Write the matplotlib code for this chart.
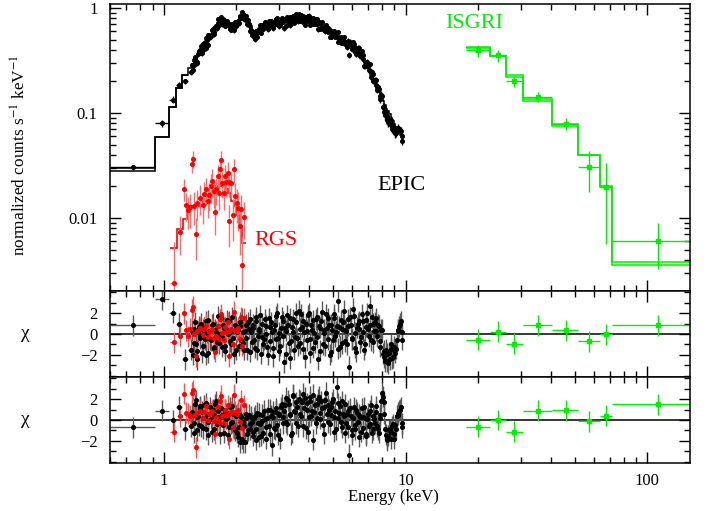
import numpy as np
import matplotlib
matplotlib.use('Agg')
import matplotlib.pyplot as plt
from matplotlib.ticker import MultipleLocator, LogLocator, NullFormatter

plt.rcParams['font.family'] = ['Liberation Serif', 'STIXGeneral', 'DejaVu Serif']
plt.rcParams['mathtext.fontset'] = 'stix'

# ---------------- EPIC: coarse low-energy bins ----------------
epic_lo_edges = [0.60, 0.924, 1.05, 1.128, 1.19, 1.26]
epic_lo_e = [0.75, 0.985, 1.09, 1.16, 1.225]
epic_lo_rate = [0.0303, 0.080, 0.134, 0.186, 0.200]
epic_lo_err = [0.0015, 0.0064, 0.010, 0.012, 0.012]
epic_lo_model1 = [0.0280, 0.059, 0.114, 0.174, 0.229]
epic_lo_model2 = [0.0300, 0.059, 0.114, 0.174, 0.229]
epic_lo_chi1 = [0.85, 3.3, 2.05, 1.0, -2.4]
epic_lo_chi2 = [-0.7, 0.9, 0.0, 1.25, -0.9]

# ---------------- EPIC set A: fine bins (keV) ----------------
epic_e = [
    1.30, 1.32, 1.34, 1.36, 1.38, 1.40, 1.42, 1.44, 1.46, 1.48,
    1.50, 1.52, 1.54, 1.57, 1.60, 1.62, 1.65, 1.67, 1.70, 1.72,
    1.75, 1.77, 1.80, 1.83, 1.86, 1.88, 1.91, 1.94, 1.97, 2.00,
    2.03, 2.06, 2.09, 2.12, 2.15, 2.18, 2.21, 2.25, 2.28, 2.31,
    2.35, 2.38, 2.42, 2.45, 2.49, 2.52, 2.56, 2.60, 2.64, 2.68,
    2.72, 2.76, 2.80, 2.84, 2.88, 2.92, 2.97, 3.01, 3.06, 3.10,
    3.15, 3.19, 3.24, 3.29, 3.34, 3.39, 3.44, 3.49, 3.54, 3.59,
    3.65, 3.70, 3.76, 3.81, 3.87, 3.93, 3.98, 4.04, 4.10, 4.16,
    4.23, 4.29, 4.35, 4.42, 4.48, 4.55, 4.62, 4.69, 4.76, 4.83,
    4.90, 4.97, 5.05, 5.12, 5.20, 5.28, 5.36, 5.44, 5.52, 5.60,
    5.68, 5.77, 5.85, 5.94, 6.03, 6.12, 6.21, 6.30, 6.40, 6.49,
    6.59, 6.69, 6.79, 6.89, 6.99, 7.10, 7.20, 7.31, 7.42, 7.53,
    7.64, 7.76, 7.87, 7.99, 8.11, 8.23, 8.36, 8.48, 8.61, 8.74,
    8.87, 9.00, 9.13, 9.27, 9.41, 9.55, 9.70,
]
epic_model = [
    0.27, 0.29, 0.31, 0.33, 0.35, 0.37, 0.40, 0.42, 0.44, 0.46,
    0.48, 0.50, 0.52, 0.56, 0.60, 0.63, 0.66, 0.69, 0.72, 0.75,
    0.76, 0.75, 0.72, 0.70, 0.68, 0.66, 0.65, 0.66, 0.70, 0.72,
    0.74, 0.78, 0.83, 0.86, 0.84, 0.80, 0.76, 0.68, 0.63, 0.58,
    0.55, 0.54, 0.56, 0.59, 0.62, 0.64, 0.66, 0.68, 0.69, 0.70,
    0.70, 0.71, 0.71, 0.72, 0.72, 0.72, 0.73, 0.73, 0.73, 0.74,
    0.74, 0.75, 0.75, 0.76, 0.77, 0.77, 0.78, 0.78, 0.79, 0.79,
    0.79, 0.79, 0.79, 0.78, 0.78, 0.77, 0.77, 0.76, 0.76, 0.75,
    0.74, 0.73, 0.71, 0.70, 0.68, 0.66, 0.64, 0.63, 0.61, 0.60,
    0.58, 0.57, 0.55, 0.54, 0.52, 0.51, 0.50, 0.49, 0.48, 0.47,
    0.46, 0.45, 0.44, 0.43, 0.42, 0.41, 0.41, 0.40, 0.39, 0.37,
    0.35, 0.32, 0.30, 0.28, 0.27, 0.25, 0.23, 0.22, 0.20, 0.19,
    0.17, 0.16, 0.15, 0.14, 0.13, 0.12, 0.11, 0.105, 0.098, 0.090,
    0.084, 0.078, 0.073, 0.070, 0.066, 0.062, 0.056,
]
epic_chi1 = [
    -1.5, -2.0, 0.5, -1.0, -2.4, 0.7, -0.2, -1.8, 0.4, -0.5,
    1.2, -1.8, 0.3, -0.6, 1.0, -1.2, 0.2, 0.8, -0.9, 1.5,
    -0.3, 0.6, -1.1, 1.3, 0.1, -0.7, 1.6, -0.4, 0.9, -1.5,
    0.4, 1.1, -0.6, 0.2, -1.5, 0.9, -1.5, 0.5, 1.4, -0.8,
    0.6, -1.3, 1.6, -0.2, 0.3, -1.9, 1.0, -0.5, 0.8, -1.2,
    1.5, -0.7, 0.2, -2.1, 0.9, 1.7, -0.4, -1.6, 0.6, 1.2,
    -2.7, 0.3, 1.8, -0.9, -2.3, 0.7, 1.4, -0.3, 2.0, -1.1,
    0.5, 1.9, -1.4, 0.2, 1.0, -0.6, 2.0, -1.8, 0.4, 1.3,
    -0.8, 1.6, -2.4, 0.6, 1.2, -1.0, 0.1, 1.9, -0.5, 0.9,
    -1.7, 0.4, 1.5, -0.2, 0.8, 3.1, -1.2, 0.5, 1.1, -0.7,
    0.3, 1.4, -3.1, 0.9, -0.4, 1.7, -1.3, 0.6, 1.2, -0.8,
    1.9, 0.2, -1.0, 1.3, 0.5, 2.7, -0.6, 1.0, 0.3, 1.5,
    -0.2, 0.8, -1.2, 0.4, -1.6, -2.6, -1.9, -2.8, -2.4, -1.4,
    -2.2, -1.5, -1.4, 0.4, 0.75, 1.2, -0.55,
]
epic_chi2 = [
    -0.6, 0.5, -1.2, 1.9, 0.3, -0.5, 1.3, 0.8, -0.8, 0.2,
    1.6, -1.4, 0.6, 0.1, 1.0, -0.9, 1.8, 0.3, -0.3, 1.1,
    0.5, -1.2, 0.9, 0.2, -0.7, 1.2, -0.2, 0.6, -1.0, 0.4,
    -1.6, -2.1, 0.3, -2.1, -0.6, 0.2, -1.3, 0.5, -0.9, -0.2,
    -1.1, 0.4, -1.9, -0.3, 0.6, -1.5, -0.1, 0.9, -1.8, 0.2,
    -0.6, 1.0, -2.4, 0.3, -0.9, 0.8, -1.4, 0.5, 1.2, -0.3,
    0.9, 2.1, -0.4, 1.5, 0.6, -1.2, 2.4, 0.8, 1.7, -0.6,
    1.9, 0.4, 2.5, 1.1, -0.8, 1.6, 0.3, 2.2, 0.9, -1.9,
    1.4, 0.2, 2.0, 0.7, 1.8, -0.5, 1.2, 2.6, -0.2, 1.0,
    0.5, 1.7, -1.1, 0.9, 3.1, 0.2, 1.3, -0.7, 0.6, 1.5,
    -0.3, 0.9, -3.3, 0.4, -1.0, 1.2, -0.5, 0.7, -1.6, 0.3,
    1.1, -0.8, 0.2, -1.3, 0.6, -0.4, 1.4, -0.9, 0.1, 0.8,
    -0.6, -1.2, 0.5, 2.6, 1.75, -0.9, -1.95, -1.5, -0.9, -1.1,
    -0.4, -1.8, -0.9, 0.5, 0.9, 1.2, -0.7,
]
# fractional error, one value per row of ten bins
epic_relerr_rows = [0.06, 0.06, 0.05, 0.05, 0.05, 0.05, 0.05,
                    0.05, 0.05, 0.05, 0.06, 0.06, 0.08, 0.08]

# ---------------- EPIC set B (second camera) ----------------
epicb_e = [
    1.31, 1.33, 1.35, 1.37, 1.39, 1.41, 1.43, 1.45, 1.47, 1.49,
    1.51, 1.53, 1.555, 1.585, 1.61, 1.635, 1.66, 1.685, 1.71, 1.735,
    1.76, 1.785, 1.815, 1.845, 1.87, 1.895, 1.925, 1.955, 1.985, 2.015,
    2.045, 2.075, 2.105, 2.135, 2.165, 2.195, 2.23, 2.265, 2.295, 2.33,
    2.365, 2.40, 2.435, 2.47, 2.505, 2.54, 2.58, 2.62, 2.66, 2.70,
    2.74, 2.78, 2.82, 2.86, 2.90, 2.945, 2.99, 3.035, 3.08, 3.125,
    3.17, 3.215, 3.265, 3.315, 3.365, 3.415, 3.465, 3.515, 3.565, 3.62,
    3.675, 3.73, 3.785, 3.84, 3.90, 3.955, 4.01, 4.07, 4.13, 4.195,
    4.26, 4.32, 4.385, 4.45, 4.515, 4.585, 4.655, 4.725, 4.795, 4.865,
    4.935, 5.01, 5.085, 5.16, 5.24, 5.32, 5.40, 5.48, 5.56, 5.64,
    5.725, 5.81, 5.895, 5.985, 6.075, 6.165, 6.255, 6.35, 6.445, 6.54,
    6.64, 6.74, 6.84, 6.94, 7.045, 7.15, 7.255, 7.365, 7.475, 7.585,
    7.70, 7.815, 7.93, 8.05, 8.17, 8.295, 8.42, 8.545, 8.675, 8.805,
    8.935, 9.065, 9.20, 9.34, 9.48, 9.625,
]
epicb_model = [
    0.28, 0.30, 0.32, 0.34, 0.36, 0.385, 0.41, 0.43, 0.45, 0.47,
    0.49, 0.51, 0.54, 0.58, 0.615, 0.645, 0.675, 0.705, 0.735, 0.755,
    0.755, 0.735, 0.71, 0.69, 0.67, 0.655, 0.655, 0.68, 0.71, 0.73,
    0.76, 0.805, 0.845, 0.85, 0.82, 0.78, 0.72, 0.655, 0.605, 0.565,
    0.545, 0.55, 0.575, 0.605, 0.63, 0.65, 0.67, 0.685, 0.695, 0.70,
    0.705, 0.71, 0.715, 0.72, 0.72, 0.725, 0.73, 0.73, 0.735, 0.74,
    0.745, 0.75, 0.755, 0.765, 0.77, 0.775, 0.78, 0.785, 0.79, 0.79,
    0.79, 0.79, 0.785, 0.78, 0.775, 0.77, 0.765, 0.76, 0.755, 0.745,
    0.735, 0.72, 0.705, 0.69, 0.67, 0.65, 0.635, 0.62, 0.605, 0.59,
    0.575, 0.56, 0.545, 0.53, 0.515, 0.505, 0.495, 0.485, 0.475, 0.465,
    0.455, 0.445, 0.435, 0.425, 0.415, 0.41, 0.405, 0.395, 0.38, 0.36,
    0.335, 0.31, 0.29, 0.275, 0.26, 0.24, 0.225, 0.21, 0.195, 0.18,
    0.165, 0.155, 0.145, 0.135, 0.125, 0.115, 0.108, 0.10, 0.094, 0.087,
    0.081, 0.075, 0.071, 0.068, 0.064, 0.059,
]
epicb_chi1 = [
    0.3, -0.9, 1.1, -1.6, 0.2, -0.4, 1.0, -1.1, 0.6, -2.0,
    0.1, 1.3, -0.5, 0.9, -1.4, 0.4, -0.8, 1.7, 0.0, -1.2,
    0.9, -1.6, 0.5, 0.0, 1.2, -1.0, 0.3, -1.9, 0.7, 0.2,
    -1.1, 0.8, 1.5, -0.9, 0.3, -0.4, 1.1, -1.7, 0.2, 0.9,
    -0.6, 1.2, -1.5, 0.5, 1.8, -0.3, -1.0, 1.4, 0.0, -2.0,
    0.7, 1.1, -1.3, 0.4, -0.5, 2.0, 0.1, -1.1, 1.6, -0.2,
    0.6, -1.9, 0.9, 1.5, -0.7, 0.2, -1.5, 1.1, -0.4, 2.2,
    -0.9, 0.7, 1.2, -2.2, 0.3, 1.8, -0.5, 0.9, -1.3, 0.1,
    1.4, -0.3, 0.8, -1.6, 2.1, 0.4, -1.1, 0.6, 1.5, -2.0,
    0.9, -0.6, 1.9, 0.2, -1.4, 0.7, 1.3, -0.9, 2.2, 0.4,
    -1.0, 0.8, 1.6, -0.5, 2.4, 0.1, -1.7, 1.0, 0.5, -0.3,
    1.2, -1.5, 0.7, 2.0, -0.2, 0.9, 1.6, -0.8, 1.1, 0.3,
    0.9, -0.7, 0.4, -1.9, -2.2, -1.5, -2.6, -1.8, -1.0, -2.3,
    -1.2, -1.8, -0.6, 0.3, 1.0, 0.2,
]
epicb_chi2 = [
    0.8, -0.3, 1.5, -1.0, 0.4, 1.1, -0.6, 0.2, 1.4, -0.9,
    0.6, -0.2, 1.2, -1.1, 0.5, 1.5, -0.4, 0.9, -1.3, 0.3,
    -0.5, 1.0, 0.1, -1.4, 0.7, -0.3, 1.3, -0.8, 0.4, -1.2,
    -0.7, 0.5, -1.8, -0.2, -2.1, 0.6, -1.0, -0.4, 0.3, -1.5,
    0.2, -0.9, 0.7, -1.6, -0.4, 0.5, -1.2, 0.1, -0.7, 1.0,
    -1.3, 0.4, 0.8, -0.8, 1.1, -0.5, 0.6, -1.8, 1.5, 0.3,
    1.4, -0.2, 1.9, 0.5, -1.4, 2.3, 0.9, -0.3, 1.2, 2.0,
    0.6, 1.7, -0.6, 2.1, 1.0, -1.1, 1.8, 0.4, 2.4, 0.8,
    -0.3, 1.5, 2.2, 0.1, 1.1, -1.3, 1.9, 0.6, 1.4, -0.4,
    1.2, 2.0, 0.3, -0.9, 1.6, 0.7, -0.2, 1.8, 0.4, -1.2,
    0.6, -0.7, 1.1, -1.4, 0.2, -0.9, 1.0, -0.2, 0.5, -1.1,
    0.3, 1.2, -1.5, 0.1, -0.6, 0.9, -1.2, 0.4, -0.3, 1.3,
    -0.9, 0.2, 1.8, 2.2, 0.6, -1.4, -1.7, -1.0, -1.8, -0.6,
    -1.3, -0.5, 0.4, 0.7, 1.0, -0.3,
]

# ---------------- RGS ----------------
rgs_e = [1.100, 1.172, 1.209, 1.237, 1.265, 1.29, 1.31, 1.32, 1.33, 1.356,
         1.38, 1.41, 1.45, 1.47, 1.50, 1.52, 1.545, 1.57, 1.59, 1.61,
         1.63, 1.65, 1.67, 1.69, 1.71, 1.73, 1.75, 1.77, 1.79, 1.81,
         1.84, 1.86, 1.87, 1.90, 1.93, 1.95, 1.98, 2.01, 2.03, 2.06,
         2.09, 2.11, 2.15]
rgs_rate = [0.0024, 0.0074, 0.0189, 0.0133, 0.0118, 0.0126, 0.0327, 0.0365, 0.0130, 0.0070,
            0.0140, 0.0156, 0.0133, 0.0170, 0.0187, 0.0145, 0.0167, 0.0200, 0.0225, 0.0180,
            0.0114, 0.0187, 0.0250, 0.0174, 0.0294, 0.0356, 0.0216, 0.0174, 0.0250, 0.0218,
            0.0271, 0.0218, 0.0093, 0.0216, 0.0106, 0.0290, 0.0162, 0.0139, 0.0125, 0.0084,
            0.0122, 0.0036, 0.0103]
rgs_err = [0.0035, 0.0030, 0.0045, 0.0040, 0.0040, 0.0045, 0.0060, 0.0065, 0.0045, 0.0030,
           0.0045, 0.0050, 0.0045, 0.0050, 0.0055, 0.0045, 0.0050, 0.0060, 0.0065, 0.0055,
           0.0045, 0.0055, 0.0070, 0.0055, 0.0075, 0.0080, 0.0060, 0.0055, 0.0070, 0.0060,
           0.0070, 0.0060, 0.0040, 0.0060, 0.0045, 0.0075, 0.0055, 0.0050, 0.0050, 0.0040,
           0.0045, 0.0030, 0.0040]
rgs_chi1 = [-0.8, -0.15, 2.0, 0.35, -0.2, 0.5, 2.3, 2.6, 0.0, -2.1,
            0.3, 0.6, -0.1, 0.5, 0.9, -0.3, 0.2, 0.3, 0.5, -0.4,
            -1.7, -0.2, 0.8, -0.5, 1.4, 1.9, 0.1, -0.6, 0.7, 0.2,
            1.1, 0.3, -2.1, 0.5, -1.0, 2.1, 0.4, 0.3, 0.6, -0.5,
            1.6, -1.1, 1.5]
rgs_chi2 = [-1.1, 0.35, 2.5, 0.7, 0.6, 0.4, 2.6, 2.85, 0.5, -2.6,
            0.7, 0.9, 0.2, 0.8, 1.3, 0.0, 0.6, 0.7, 0.9, -0.1,
            -1.3, 0.3, 1.2, -0.2, 1.8, 2.3, 0.4, -0.3, 1.0, 0.5,
            1.4, 0.6, -1.8, 0.8, -0.7, 2.4, 0.8, 0.6, 1.0, -0.2,
            1.9, -0.8, 1.4]
rgs_model_edges = [1.06, 1.14, 1.20, 1.25, 1.29, 1.46, 1.56, 1.64, 1.80, 1.85,
                   1.89, 1.95, 2.00, 2.05, 2.10, 2.18]
rgs_model = [0.0052, 0.0078, 0.0098, 0.0122, 0.0129, 0.0145, 0.0174, 0.0201,
             0.0187, 0.0174, 0.0145, 0.0129, 0.0108, 0.0084, 0.0058]

# ---------------- ISGRI ----------------
isgri_edges = [17.8, 22.3, 25.9, 30.6, 40.5, 51.5, 63.8, 71.3, 150.0]
isgri_e = [20.0, 24.2, 28.1, 35.4, 46.0, 57.2, 67.3, 110.5]
isgri_rate = [0.394, 0.353, 0.201, 0.142, 0.079, 0.0306, 0.0197, 0.0061]
isgri_err = [0.050, 0.045, 0.025, 0.015, 0.010, 0.013, 0.014, 0.0028]
isgri_model1 = [0.425, 0.350, 0.228, 0.137, 0.0785, 0.0400, 0.0200, 0.0038]
isgri_model2 = [0.415, 0.345, 0.222, 0.130, 0.0745, 0.0395, 0.0197, 0.0036]
isgri_chi1 = [-0.57, 0.22, -0.94, 0.85, 0.38, -0.69, -0.03, 0.85]
isgri_chi2 = [-0.66, 0.0, -1.13, 0.88, 0.91, -0.13, 0.41, 1.51]


def bin_edges(centers, first_lo=None):
    c = np.asarray(centers, dtype=float)
    mid = np.sqrt(c[:-1] * c[1:])
    lo = first_lo if first_lo is not None else c[0] ** 2 / mid[0]
    return np.concatenate([[lo], mid, [c[-1] ** 2 / mid[-1]]])


def xerr_from(centers, edges):
    c = np.asarray(centers, dtype=float)
    ed = np.asarray(edges, dtype=float)
    return [c - ed[:-1], ed[1:] - c]


# derived EPIC quantities (set A, continuing the coarse bins)
e_fine = np.array(epic_e)
m_fine = np.array(epic_model)
relerr = np.repeat(epic_relerr_rows, 10)[:len(e_fine)]
err_fine = m_fine * relerr
rate_fine = m_fine + np.array(epic_chi1) * err_fine
edges_fine = bin_edges(e_fine, first_lo=epic_lo_edges[-1])

epic_e_all = np.concatenate([epic_lo_e, e_fine])
epic_edges_all = np.concatenate([epic_lo_edges, edges_fine[1:]])
epic_xerr = xerr_from(epic_e_all, epic_edges_all)
epic_rate_all = np.concatenate([epic_lo_rate, rate_fine])
epic_err_all = np.concatenate([epic_lo_err, err_fine])
epic_chi1_all = np.concatenate([epic_lo_chi1, epic_chi1])
epic_chi2_all = np.concatenate([epic_lo_chi2, epic_chi2])
epic_step_vals = np.concatenate([epic_lo_model1, m_fine])

# set B
eb = np.array(epicb_e)
mb = np.array(epicb_model)
errb = mb * np.repeat(epic_relerr_rows, 10)[:len(eb)]
rateb = mb + np.array(epicb_chi1) * errb
eb_xerr = xerr_from(eb, bin_edges(eb))

rgs_x = np.array(rgs_e)
rgs_xerr = xerr_from(rgs_x, bin_edges(rgs_x))

isg_x = np.array(isgri_e)
isg_xerr = xerr_from(isg_x, isgri_edges)

RED = '#ff0000'
GREEN = '#00ee00'
MS = 2.6

fig = plt.figure(figsize=(7.13, 5.11), dpi=100)
L, W = 110 / 713, 580 / 713
ax0 = fig.add_axes([L, 1 - 291 / 511, W, 287 / 511])
ax1 = fig.add_axes([L, 1 - 377 / 511, W, 86 / 511], sharex=ax0)
ax2 = fig.add_axes([L, 1 - 463 / 511, W, 86 / 511], sharex=ax0)

# ---- top panel: spectra and models
ax0.stairs(epic_step_vals, epic_edges_all, baseline=None, color='k', lw=1.1)
ax0.stairs(epic_lo_model2, epic_lo_edges, baseline=None, color='k', lw=1.1)
ax0.errorbar(epic_e_all, epic_rate_all, xerr=epic_xerr, yerr=epic_err_all, fmt='o',
             ms=MS, color='k', ecolor='k', elinewidth=1, capsize=0)
ax0.errorbar(eb, rateb, xerr=eb_xerr, yerr=errb, fmt='o',
             ms=MS, color='k', ecolor='k', elinewidth=1, capsize=0)

ax0.stairs(rgs_model, rgs_model_edges, baseline=None, color=RED, lw=1.2)
ax0.errorbar(rgs_x, rgs_rate, xerr=rgs_xerr, yerr=rgs_err, fmt='o', ms=MS,
             color=RED, ecolor='#ff6a6a', elinewidth=1, capsize=0)

ax0.stairs(isgri_model1, isgri_edges, baseline=None, color=GREEN, lw=1.1)
ax0.stairs(isgri_model2, isgri_edges, baseline=None, color=GREEN, lw=1.1)
ax0.errorbar(isg_x, isgri_rate, xerr=isg_xerr, yerr=isgri_err, fmt='s', ms=MS,
             color=GREEN, ecolor=GREEN, elinewidth=1, capsize=0)

ax0.text(19.2, 0.71, 'ISGRI', color=GREEN, fontsize=16, ha='center', va='center')
ax0.text(9.6, 0.0204, 'EPIC', color='k', fontsize=16, ha='center', va='center')
ax0.text(2.92, 0.0061, 'RGS', color=RED, fontsize=16, ha='center', va='center')

ax0.set_yscale('log')
ax0.set_ylim(0.00202, 1.09)
ax0.set_yticks([0.01, 0.1, 1], ['0.01', '0.1', '1'])
ax0.yaxis.set_minor_locator(LogLocator(subs=np.arange(2, 10)))
ax0.yaxis.set_minor_formatter(NullFormatter())

# ---- residual panels
for ax, c_epic, c_b, c_rgs, c_isg in (
        (ax1, epic_chi1_all, epicb_chi1, rgs_chi1, isgri_chi1),
        (ax2, epic_chi2_all, epicb_chi2, rgs_chi2, isgri_chi2)):
    ax.axhline(0, color='k', lw=1.1, zorder=1)
    ax.errorbar(epic_e_all, c_epic, xerr=epic_xerr, yerr=1, fmt='o', ms=MS,
                color='k', ecolor='0.35', elinewidth=1, capsize=0)
    ax.errorbar(eb, c_b, xerr=eb_xerr, yerr=1, fmt='o', ms=MS,
                color='k', ecolor='0.35', elinewidth=1, capsize=0)
    ax.errorbar(rgs_x, c_rgs, xerr=rgs_xerr, yerr=1, fmt='o', ms=MS,
                color=RED, ecolor='#ff5050', elinewidth=1, capsize=0)
    ax.errorbar(isg_x, c_isg, xerr=isg_xerr, yerr=1, fmt='s', ms=MS,
                color=GREEN, ecolor=GREEN, elinewidth=1, capsize=0)
    ax.set_ylim(-4.1, 4.1)
    ax.set_yticks([-2, 0, 2], ['\u22122', '0', '2'])
    ax.yaxis.set_minor_locator(MultipleLocator(1))

for ax in (ax0, ax1, ax2):
    ax.set_xscale('log')
    ax.set_xlim(0.6, 150)
    ax.set_xticks([1, 10, 100], ['1', '10', '100'])
    ax.xaxis.set_minor_locator(LogLocator(subs=np.arange(2, 10)))
    ax.xaxis.set_minor_formatter(NullFormatter())
    ax.tick_params(which='both', direction='in', top=True, right=True, labelsize=12)
    ax.tick_params(which='major', length=8, width=1, pad=9)
    ax.tick_params(which='minor', length=4, width=1)
    for s in ax.spines.values():
        s.set_linewidth(1.1)

ax0.tick_params(labelbottom=False)
ax1.tick_params(labelbottom=False)
ax2.tick_params(axis='x', pad=7)

fig.text(20 / 713, 1 - 155 / 511, 'normalized counts s$^{-1}$ keV$^{-1}$',
         rotation=90, ha='center', va='center', fontsize=12.4)
fig.text(25 / 713, 1 - 333 / 511, '\u03c7', ha='center', va='center', fontsize=14)
fig.text(25 / 713, 1 - 420 / 511, '\u03c7', ha='center', va='center', fontsize=14)
fig.text(393 / 713, 1 - 497 / 511, 'Energy (keV)', ha='center', va='center', fontsize=12)

fig.savefig('out.png', dpi=100)
